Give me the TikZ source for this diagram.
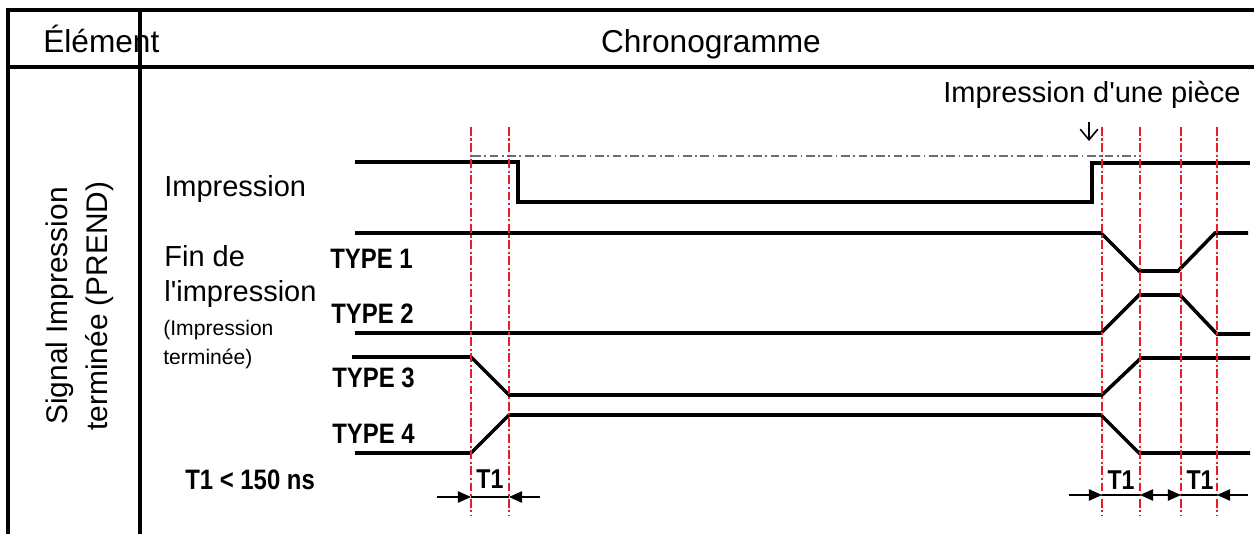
\documentclass[tikz,border=0pt]{standalone}
\usepackage{fontspec}
\setmainfont{Liberation Sans}[Ligatures=TeXOff]
\newfontfamily\narrowsans{Liberation Sans}[FakeStretch=0.85]
\usetikzlibrary{arrows.meta}
\definecolor{markred}{RGB}{237,28,36}
\definecolor{guidegray}{RGB}{110,110,110}

\begin{document}
\begin{tikzpicture}[x=0.02cm,y=-0.02cm,
  frame/.style={line width=1.8pt},
  wave/.style={line width=2pt},
  guide/.style={guidegray,line width=0.6pt,dash pattern=on 5pt off 2pt on 1pt off 2pt},
  marker/.style={markred,line width=1.4pt,dash pattern=on 5pt off 1.5pt on 1.2pt off 1.5pt},
  dim/.style={line width=0.8pt,>={Triangle[length=7.5pt,width=6.5pt]}},
  header/.style={inner sep=0pt,font=\fontsize{18}{20}\selectfont},
  label/.style={inner sep=0pt,anchor=base west,font=\fontsize{16.5}{18}\selectfont},
  smalllabel/.style={inner sep=0pt,anchor=base west,font=\fontsize{12}{14}\selectfont},
  typelabel/.style={inner sep=0pt,anchor=base west,font=\narrowsans\bfseries\fontsize{16}{18}\selectfont},
  t1label/.style={inner sep=0pt,anchor=base,font=\narrowsans\bfseries\fontsize{15.5}{17}\selectfont}]
\useasboundingbox (0,0) rectangle (1254,534);

% table
\draw[frame] (1254,10) -- (8,10) -- (8,534);
\draw[frame] (8,67) -- (1254,67);
\draw[frame] (140,10) -- (140,534);
\node[header,anchor=base west] (element) at (43,52) {Élément};
\node[header,anchor=base] (chrono) at (711,52) {Chronogramme};
\node[rotate=90,align=center,font=\fontsize{17}{22.7}\selectfont] (signal) at (80,306)
  {Signal Impression\\terminée (PREND)};

% signal names
\node[label] (impr) at (164,196) {Impression};
\node[label] (fin1) at (164,266) {Fin de};
\node[label] (fin2) at (164,301) {l'impression};
\node[smalllabel] (fin3) at (163,335) {(Impression};
\node[smalllabel] (fin4) at (163,364) {terminée)};
\node[typelabel] (type1) at (330,268) {TYPE 1};
\node[typelabel] (type2) at (331,323) {TYPE 2};
\node[typelabel] (type3) at (332,387) {TYPE 3};
\node[typelabel] (type4) at (332,443) {TYPE 4};
\node[typelabel] (limit) at (185,489) {T1 < 150 ns};

% waveforms
\draw[guide] (472,156) -- (1140,156);
\draw[wave] (355,162) -- (518,162) -- (518,202) -- (1092,202) -- (1092,163) -- (1250,163);
\draw[wave] (355,233) -- (1101,233) -- (1139,271) -- (1178,271) -- (1215,233) -- (1248,233);
\draw[wave] (355,333) -- (1101,333) -- (1139,295) -- (1180,295) -- (1217,334) -- (1250,334);
\draw[wave] (352,357) -- (471,357) -- (509,395) -- (1102,395) -- (1141,358) -- (1250,358);
\draw[wave] (355,453) -- (471,453) -- (509,415) -- (1101,415) -- (1139,453) -- (1250,453);

% markers
\foreach \x in {471,509,1102,1140,1181,1217}
  \draw[marker] (\x,127) -- (\x,515);

% piece
\node[label] (piece) at (943,102) {Impression d'une pièce};
\draw[line width=0.9pt,-{Straight Barb[length=6pt,width=10pt]}] (1089,122) -- (1089,141);

% T1 dimensions
\draw[dim,->] (437,497) -- (471,497);
\draw[dim] (471,497) -- (509,497);
\draw[dim,->] (540,497) -- (509,497);
\node[t1label] (t1a) at (490,488) {T1};
\draw[dim,->] (1069,495) -- (1102,495);
\draw[dim] (1102,495) -- (1140,495);
\draw[dim,<->] (1140,495) -- (1181,495);
\draw[dim] (1181,495) -- (1217,495);
\draw[dim,->] (1248,495) -- (1217,495);
\node[t1label] (t1b) at (1121,489) {T1};
\node[t1label] (t1c) at (1200,489) {T1};
\end{tikzpicture}
\end{document}
